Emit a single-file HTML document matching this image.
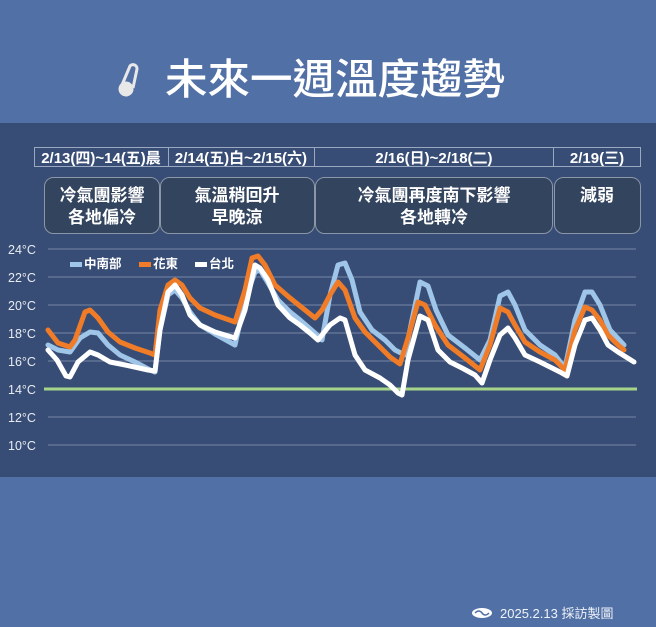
<!DOCTYPE html>
<html><head><meta charset="utf-8"><style>
body{margin:0;width:656px;height:627px;overflow:hidden;background:#5170a6}
svg{display:block}
text{font-family:"Liberation Sans","Noto Sans CJK TC",sans-serif}
</style></head><body>
<svg width="656" height="627" viewBox="0 0 656 627">
<rect width="656" height="627" fill="#5170a6"/>
<rect x="0" y="123" width="656" height="354" fill="#384d75"/>
<!-- thermometer -->
<g fill="none" stroke="#e8e8e8" stroke-width="3">
<path d="M122 85 L130 66 a4 4 0 0 1 7 3 L133 88"/>
<circle cx="126" cy="89" r="6" fill="#e8e8e8"/>
</g>
<text x="165" y="94" font-size="42" fill="#fff" font-weight="500" textLength="340" lengthAdjust="spacingAndGlyphs">未來一週溫度趨勢</text>
<!-- period boxes -->
<g fill="none" stroke="#9aa8c0" stroke-width="1">
<rect x="34.5" y="147.5" width="134" height="19"/>
<rect x="168.5" y="147.5" width="146" height="19"/>
<rect x="314.5" y="147.5" width="239" height="19"/>
<rect x="553.5" y="147.5" width="87" height="19"/>
</g>
<g fill="#fff" font-size="15" font-weight="bold" text-anchor="middle">
<text x="101" y="163">2/13(四)~14(五)晨</text>
<text x="241" y="163">2/14(五)白~2/15(六)</text>
<text x="434" y="163">2/16(日)~2/18(二)</text>
<text x="597" y="163">2/19(三)</text>
</g>
<g fill="#33445e" stroke="#8b96a8" stroke-width="1">
<rect x="44.5" y="177.5" width="115" height="56" rx="9"/>
<rect x="160.5" y="177.5" width="154" height="56" rx="9"/>
<rect x="315.5" y="177.5" width="237" height="56" rx="9"/>
<rect x="554.5" y="177.5" width="86" height="56" rx="9"/>
</g>
<g fill="#fff" font-size="17" font-weight="bold" text-anchor="middle">
<text x="102" y="201">冷氣團影響</text><text x="102" y="223">各地偏冷</text>
<text x="237" y="201">氣溫稍回升</text><text x="237" y="223">早晚涼</text>
<text x="434" y="201">冷氣團再度南下影響</text><text x="434" y="223">各地轉冷</text>
<text x="597" y="201">減弱</text>
</g>
<!-- grid -->
<g stroke="#6a7b9c" stroke-width="1.2">
<line x1="48" y1="249" x2="636" y2="249"/><line x1="48" y1="277" x2="636" y2="277"/>
<line x1="48" y1="305" x2="636" y2="305"/><line x1="48" y1="333" x2="636" y2="333"/>
<line x1="48" y1="361" x2="636" y2="361"/><line x1="48" y1="417" x2="636" y2="417"/>
<line x1="48" y1="445" x2="636" y2="445"/>
</g>
<g fill="#e8ecf2" font-size="12.5">
<text x="8" y="254">24°C</text><text x="8" y="282">22°C</text><text x="8" y="310">20°C</text>
<text x="8" y="338">18°C</text><text x="8" y="366">16°C</text><text x="8" y="394">14°C</text>
<text x="8" y="422">12°C</text><text x="8" y="450">10°C</text>
</g>
<line x1="44" y1="389" x2="637" y2="389" stroke="#a6d58a" stroke-width="3"/>
<!-- legend -->
<rect x="70" y="262" width="12" height="5" fill="#9fc5e8"/>
<text x="84" y="268" font-size="12.5" fill="#fff" font-weight="bold">中南部</text>
<rect x="139" y="262" width="12" height="5" fill="#f07c28"/>
<text x="153" y="268" font-size="12.5" fill="#fff" font-weight="bold">花東</text>
<rect x="195" y="262" width="12" height="5" fill="#fff"/>
<text x="209" y="268" font-size="12.5" fill="#fff" font-weight="bold">台北</text>
<g fill="none" stroke-width="5" stroke-linejoin="round" stroke-linecap="round">
<polyline stroke="#9fc5e8" points="48,345 58,350 70,352 80,338 90,332 98,333 108,345 120,355 135,362 150,370 155,372 160,330 168,295 175,290 182,298 190,312 200,325 215,334 235,345 245,300 255,272 260,270 268,283 278,300 290,312 300,320 315,333 322,340 330,295 338,265 345,263 352,280 360,312 372,330 385,340 395,350 405,355 412,320 420,282 428,286 436,310 448,335 465,348 480,360 490,340 500,296 508,292 515,305 525,330 540,345 555,355 565,368 575,320 585,292 592,292 600,305 610,330 624,345"/>
<polyline stroke="#f07c28" points="48,330 58,343 70,347 75,340 85,312 90,310 98,318 108,332 120,342 135,348 150,353 155,355 160,310 168,285 175,280 182,285 190,298 200,308 215,315 235,322 245,290 252,258 258,256 265,265 275,285 290,298 300,306 315,318 322,310 330,295 338,282 345,290 355,318 365,332 380,347 390,357 400,364 408,338 418,302 425,305 435,325 448,345 465,358 480,370 490,345 500,308 508,312 515,325 525,342 540,352 555,360 565,370 575,330 585,307 592,310 600,320 608,335 618,345 624,350"/>
<polyline stroke="#fff" points="48,350 57,360 66,376 70,377 78,362 90,352 98,355 110,362 130,366 148,370 155,371 160,330 168,292 175,285 182,295 190,315 200,325 215,332 235,338 245,310 255,265 260,268 268,280 278,305 290,318 300,325 310,333 318,340 330,325 340,318 345,320 355,355 365,370 380,378 390,385 398,393 402,395 408,360 420,316 428,320 438,350 450,362 462,368 475,375 482,383 490,360 500,335 508,328 515,338 525,355 540,362 552,368 560,372 567,376 575,345 585,320 592,318 600,330 608,345 618,352 634,362"/>
</g>
<!-- footer -->
<ellipse cx="482" cy="613" rx="10" ry="5" fill="#fff"/>
<path d="M475 613 q4 -4 7 0 t7 0" stroke="#5170a6" stroke-width="1.5" fill="none"/>
<text x="500" y="618" font-size="13" fill="#f0f3f8">2025.2.13 採訪製圖</text>
</svg>
</body></html>
